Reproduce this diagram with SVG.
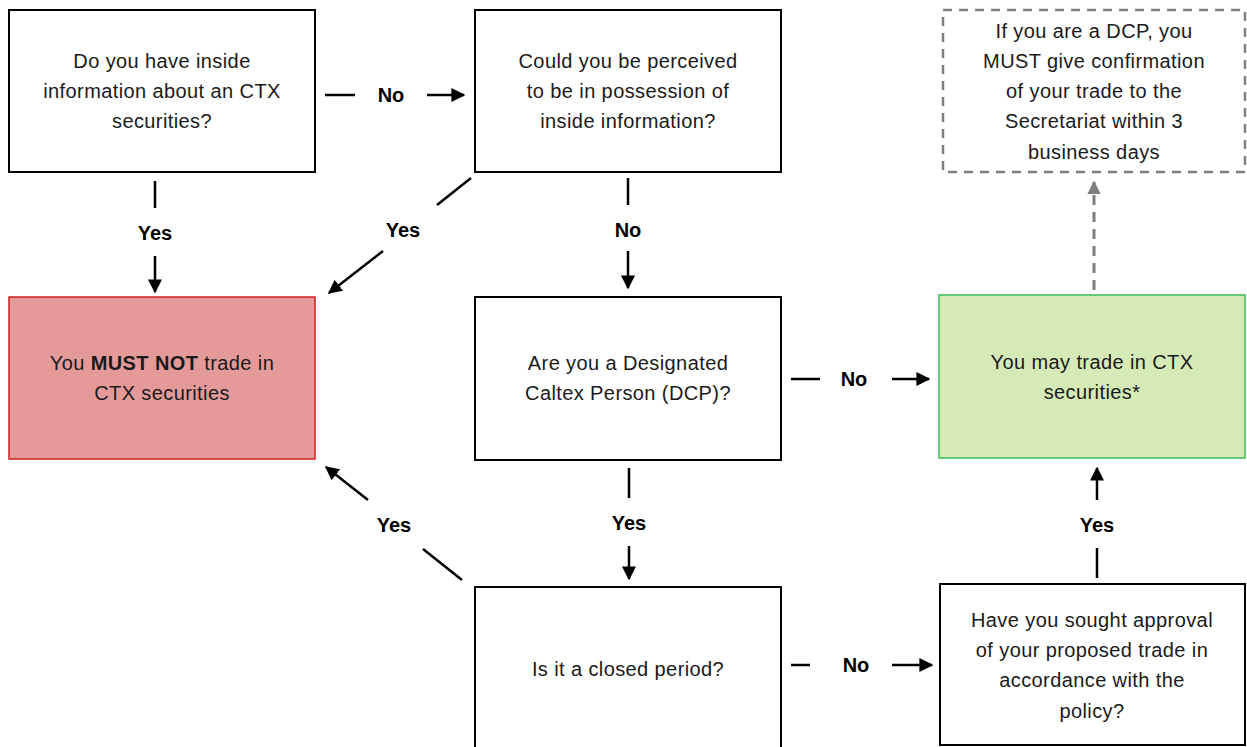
<svg xmlns="http://www.w3.org/2000/svg" width="1247" height="747" viewBox="0 0 1247 747">
<style>
.box{fill:#fff;stroke:#000;stroke-width:2}
.t{font-family:"Liberation Sans",Arial,sans-serif;font-size:20px;letter-spacing:0.4px;fill:#1a1a1a;text-anchor:middle}
.lbl{font-family:"Liberation Sans",Arial,sans-serif;font-size:20px;font-weight:bold;fill:#000;text-anchor:middle}
.c{stroke:#000;stroke-width:2.5;fill:none}
.cd{stroke:#7f7f7f;stroke-width:3;fill:none;stroke-dasharray:10 7}
</style>
<defs>
<marker id="ah" viewBox="0 0 10 10" refX="9" refY="5" markerWidth="5.6" markerHeight="5.6" orient="auto" markerUnits="strokeWidth"><path d="M0,0 L10,5 L0,10 z" fill="#000"/></marker>
<marker id="ahg" viewBox="0 0 10 10" refX="9" refY="5" markerWidth="4.5" markerHeight="4.5" orient="auto" markerUnits="strokeWidth"><path d="M0,0 L10,5 L0,10 z" fill="#7f7f7f"/></marker>
</defs>
<g id="connectors">
<line class="c" x1="325" y1="95" x2="355" y2="95"/>
<text class="lbl" x="391" y="102">No</text>
<line class="c" x1="427" y1="95" x2="464" y2="95" marker-end="url(#ah)"/>
<line class="c" x1="155" y1="181" x2="155" y2="208"/>
<text class="lbl" x="155" y="240">Yes</text>
<line class="c" x1="155" y1="256" x2="155" y2="292" marker-end="url(#ah)"/>
<line class="c" x1="471" y1="178" x2="437" y2="205"/>
<text class="lbl" x="403" y="237">Yes</text>
<line class="c" x1="383" y1="251" x2="329" y2="293" marker-end="url(#ah)"/>
<line class="c" x1="628" y1="178" x2="628" y2="205"/>
<text class="lbl" x="628" y="237">No</text>
<line class="c" x1="628" y1="251" x2="628" y2="288" marker-end="url(#ah)"/>
<line class="c" x1="791" y1="379" x2="820" y2="379"/>
<text class="lbl" x="854" y="386">No</text>
<line class="c" x1="892" y1="379" x2="929" y2="379" marker-end="url(#ah)"/>
<line class="c" x1="629" y1="468" x2="629" y2="498"/>
<text class="lbl" x="629" y="530">Yes</text>
<line class="c" x1="629" y1="546" x2="629" y2="579" marker-end="url(#ah)"/>
<line class="c" x1="462" y1="580" x2="423" y2="549"/>
<text class="lbl" x="394" y="532">Yes</text>
<line class="c" x1="368" y1="500" x2="326" y2="467" marker-end="url(#ah)"/>
<line class="c" x1="791" y1="665" x2="810" y2="665"/>
<text class="lbl" x="856" y="672">No</text>
<line class="c" x1="892" y1="665" x2="932" y2="665" marker-end="url(#ah)"/>
<line class="c" x1="1097" y1="578" x2="1097" y2="548"/>
<text class="lbl" x="1097" y="532">Yes</text>
<line class="c" x1="1097" y1="500" x2="1097" y2="468" marker-end="url(#ah)"/>
<line class="cd" x1="1094" y1="290" x2="1094" y2="182" marker-end="url(#ahg)"/>
</g>
<g id="n1"><rect class="box" x="9" y="10" width="306" height="162"/>
<text class="t" x="162" y="68">Do you have inside</text><text class="t" x="162" y="98">information about an CTX</text><text class="t" x="162" y="128">securities?</text></g>
<g id="n2"><rect class="box" x="475" y="10" width="306" height="162"/>
<text class="t" x="628" y="68">Could you be perceived</text><text class="t" x="628" y="98">to be in possession of</text><text class="t" x="628" y="128">inside information?</text></g>
<g id="n3"><rect x="943" y="10" width="302" height="162" fill="#fff" stroke="#7f7f7f" stroke-width="2.5" stroke-dasharray="9 7"/>
<text class="t" x="1094" y="38">If you are a DCP, you</text><text class="t" x="1094" y="68">MUST give confirmation</text><text class="t" x="1094" y="98">of your trade to the</text><text class="t" x="1094" y="128">Secretariat within 3</text><text class="t" x="1094" y="159">business days</text></g>
<g id="n4"><rect x="9" y="297" width="306" height="162" fill="#e59a9a" stroke="#cc1f1f" stroke-width="1.5"/>
<text class="t" x="162" y="370">You <tspan font-weight="bold">MUST NOT</tspan> trade in</text><text class="t" x="162" y="400">CTX securities</text></g>
<g id="n5"><rect class="box" x="475" y="297" width="306" height="163"/>
<text class="t" x="628" y="370">Are you a Designated</text><text class="t" x="628" y="400">Caltex Person (DCP)?</text></g>
<g id="n6"><rect x="939" y="295" width="306" height="163" fill="#d5eab7" stroke="#3dbb5a" stroke-width="1.5"/>
<text class="t" x="1092" y="369">You may trade in CTX</text><text class="t" x="1092" y="399">securities*</text></g>
<g id="n7"><rect class="box" x="475" y="587" width="306" height="170"/>
<text class="t" x="628" y="676">Is it a closed period?</text></g>
<g id="n8"><rect class="box" x="940" y="584" width="305" height="161"/>
<text class="t" x="1092" y="627">Have you sought approval</text><text class="t" x="1092" y="657">of your proposed trade in</text><text class="t" x="1092" y="687">accordance with the</text><text class="t" x="1092" y="718">policy?</text></g>
</svg>
